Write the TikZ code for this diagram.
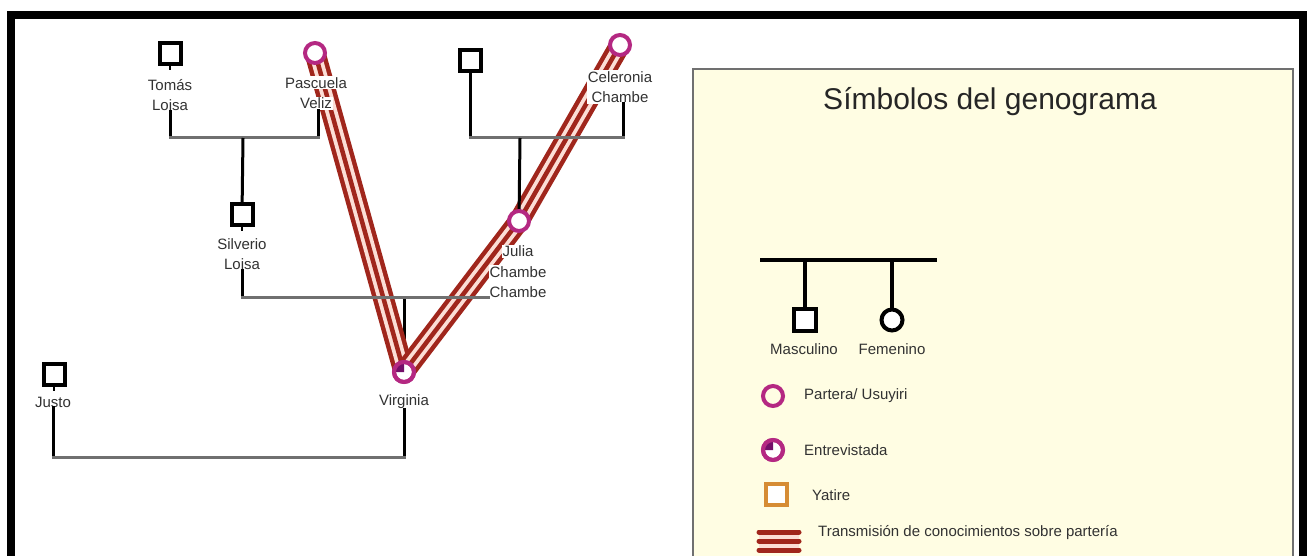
\documentclass[tikz,border=0pt]{standalone}
\usepackage{fontspec}
\setmainfont{Liberation Sans}
\definecolor{mag}{RGB}{180,40,130}
\definecolor{entr}{RGB}{115,15,105}
\definecolor{tred}{RGB}{160,38,28}
\definecolor{tpink}{RGB}{252,222,214}
\definecolor{lgd}{RGB}{255,253,227}
\definecolor{conn}{RGB}{112,112,112}
\definecolor{yat}{RGB}{214,140,52}
\definecolor{txt}{RGB}{50,50,50}
\newcommand{\wb}[1]{{\setlength{\fboxsep}{1pt}\colorbox{white}{#1}}}
\begin{document}
\begin{tikzpicture}[x=1pt,y=-1pt,
  male/.style={draw=black,line width=4pt,fill=white,rectangle,minimum size=21pt,inner sep=0pt},
  partera/.style={draw=mag,line width=4pt,fill=white,circle,minimum size=20pt,inner sep=0pt},
  female/.style={draw=black,line width=4pt,fill=white,circle,minimum size=21pt,inner sep=0pt},
  yatire/.style={draw=yat,line width=4pt,fill=white,rectangle,minimum size=21pt,inner sep=0pt},
  lab/.style={font=\fontsize{15}{20.5}\selectfont,text=txt,align=center,inner sep=1pt},
  leglab/.style={font=\fontsize{15}{20.5}\selectfont,text=txt,anchor=west,inner sep=0pt},
  vline/.style={draw=black,line width=3pt},
  hline/.style={draw=conn,line width=3pt,line cap=rect},
  strip/.style={draw=tred,line width=21pt,line join=round,
     postaction={draw=tpink,line width=12pt},
     postaction={draw=tred,line width=4.5pt}},
  legstrip/.style={draw=tred,line width=5pt,line cap=round}
]
\useasboundingbox (0,0) rectangle (1313,556);
\clip (0,0) rectangle (1313,556);
\fill[white] (0,0) rectangle (1313,556);

% legend box
\fill[lgd] (693,69) rectangle (1293,570);
\draw[conn,line width=1.8pt] (693,570) -- (693,69) -- (1293,69) -- (1293,570);

% outer frame
\draw[black,line width=8pt] (11,570) -- (11,15) -- (1303,15) -- (1303,570);

% junction coordinates
\coordinate (m1) at (243,138);
\coordinate (m2c) at (520,138);
\coordinate (m3) at (404,297);
\coordinate (e3) at (488,297);
\coordinate (m4) at (404,457);

% people (positions)
\coordinate (pTom) at (170,54);
\coordinate (pPas) at (315,53);
\coordinate (pM2) at (470,61);
\coordinate (pCel) at (620,45);
\coordinate (pSil) at (242,214);
\coordinate (pJul) at (519,221);
\coordinate (pVir) at (404,372);
\coordinate (pJus) at (54,374);

% vertical to Virginia (under strips)
\draw[vline] (m3) -- (pVir);

% transmission strips
\draw[strip] (pPas) -- (pVir);
\draw[strip] (pCel) -- (pJul) -- (pVir);

% labels
\node[lab] (tomL) at (170,95) {Tomás\\Loisa};
\node[lab] (pasL) at (316,93) {\wb{Pascuela}\\\wb{Veliz}};
\node[lab,fill=white] (celL) at (620,87) {Celeronia\\Chambe};
\node[lab] (silL) at (242,254) {Silverio\\Loisa};
\node[lab] (julL) at (518,272) {\wb{Julia}\\\wb{Chambe}\\\wb{Chambe}};
\node[lab] (virL) at (404,402) {Virginia};
\node[lab] (jusL) at (53,402) {Justo};

% family connectors
\draw[vline] ([yshift=2pt]tomL.south) -- (tomL.south |- m1);
\draw[vline] ([xshift=2pt,yshift=2pt]pasL.south) -- ([xshift=2pt]pasL.south |- m1);
\draw[hline] (tomL.south |- m1) -- ([xshift=2pt]pasL.south |- m1);
\draw[vline] (m1) -- (pSil);

\draw[vline] (pM2) -- (pM2 |- m2c);
\draw[vline] ([xshift=3pt,yshift=2pt]celL.south) -- ([xshift=3pt]celL.south |- m2c);
\draw[hline] (pM2 |- m2c) -- ([xshift=3pt]celL.south |- m2c);
\draw[vline] (m2c) -- (pJul);

\draw[vline] ([yshift=2pt]silL.south) -- (silL.south |- m3);
\draw[hline] (silL.south |- m3) -- (e3);

\draw[vline] ([yshift=2pt]jusL.south) -- (jusL.south |- m4);
\draw[vline] ([yshift=2pt]virL.south) -- (m4);
\draw[hline] (jusL.south |- m4) -- (m4);

% symbols
\node[male] (tom) at (pTom) {};
\node[partera] (pas) at (pPas) {};
\node[male] (m2) at (pM2) {};
\node[partera] (cel) at (pCel) {};
\node[male] (sil) at (pSil) {};
\node[partera] (jul) at (pJul) {};
\node[partera] (vir) at (pVir) {};
\node[male] (jus) at (pJus) {};
\fill[entr] (vir.center) -- ([xshift=-10pt]vir.center) arc[start angle=180,end angle=90,radius=10pt] -- cycle;
\draw[mag,line width=4pt] (vir.center) circle[radius=10pt];
\foreach \n in {tom,m2,sil,jus} \draw[black,line width=2pt] (\n.south) -- ++(0,4);

% legend
\node[font=\fontsize{30}{34}\selectfont,text=black!85,anchor=base] (title) at (990,110) {Símbolos del genograma};
\coordinate (lA) at (760,260);
\coordinate (lB) at (937,260);
\draw[black,line width=4pt] (lA) -- (lB);
\node[male,minimum size=22pt] (lm) at (805,320) {};
\node[female] (lf) at (892,320) {};
\draw[black,line width=3.5pt] (lm.north |- lA) -- (lm.north);
\draw[black,line width=3.5pt] (lf.north |- lA) -- (lf.north);
\node[font=\fontsize{15}{20.5}\selectfont,text=txt] (lmL) at (804,349) {Masculino};
\node[font=\fontsize{15}{20.5}\selectfont,text=txt] (lfL) at (892,349) {Femenino};

\node[partera,fill=lgd] (lp) at (773,396) {};
\node[leglab] (lpL) at (804,396) {Partera/ Usuyiri};
\node[partera] (le) at (773,450) {};
\fill[entr] (le.center) -- ([xshift=-10pt]le.center) arc[start angle=180,end angle=90,radius=10pt] -- cycle;
\draw[mag,line width=4pt] (le.center) circle[radius=10pt];
\node[leglab] (leL) at (804,450) {Entrevistada};
\node[yatire] (ly) at (776,494) {};
\node[leglab] (lyL) at (812,495) {Yatire};
\coordinate (t1a) at (759,532); \coordinate (t1b) at (799,532);
\coordinate (t2a) at (759,541); \coordinate (t2b) at (799,541);
\coordinate (t3a) at (759,550); \coordinate (t3b) at (799,550);
\fill[tpink] (759,530) rectangle (799,552);
\draw[legstrip] (t1a) -- (t1b);
\draw[legstrip] (t2a) -- (t2b);
\draw[legstrip] (t3a) -- (t3b);
\node[leglab] (ltL) at (818,533) {Transmisión de conocimientos sobre partería};
\end{tikzpicture}
\end{document}
